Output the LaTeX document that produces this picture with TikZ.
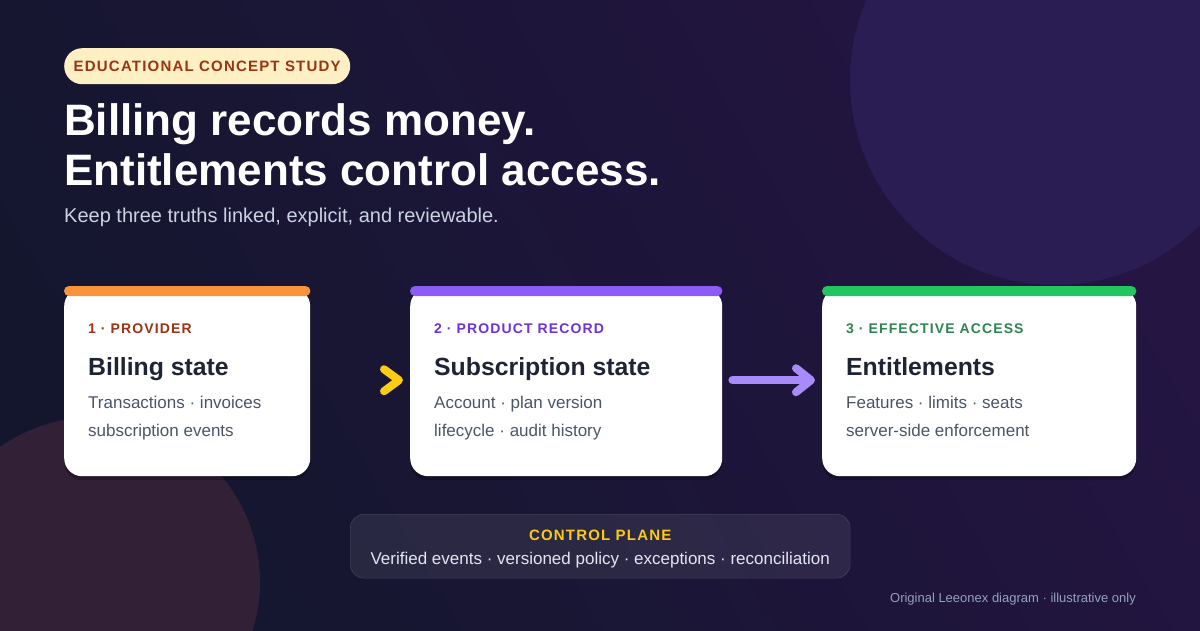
\documentclass[tikz,border=0pt]{standalone}
\usepackage{fontspec}
\setmainfont{Liberation Sans}
\newfontfamily\spaced[LetterSpace=8]{Liberation Sans}
\usepackage{tikz}
\usetikzlibrary{calc,positioning,arrows.meta,shadows}
\definecolor{bgtl}{RGB}{20,22,46}
\definecolor{bgbr}{RGB}{36,21,66}
\definecolor{blobviolet}{RGB}{42,29,84}
\definecolor{blobrose}{RGB}{50,32,54}
\definecolor{cream}{RGB}{254,240,196}
\definecolor{rust}{RGB}{154,52,18}
\definecolor{ink}{RGB}{30,36,52}
\definecolor{slate}{RGB}{75,85,105}
\definecolor{subgrey}{RGB}{203,210,225}
\definecolor{provbar}{RGB}{251,146,60}
\definecolor{prodbar}{RGB}{139,92,246}
\definecolor{entbar}{RGB}{34,197,94}
\definecolor{prodtxt}{RGB}{109,50,220}
\definecolor{enttxt}{RGB}{47,133,80}
\definecolor{gold}{RGB}{250,204,21}
\definecolor{lilac}{RGB}{167,139,250}
\definecolor{planetxt}{RGB}{226,230,240}
\definecolor{footgrey}{RGB}{148,160,190}
\tikzstyle{card}=[fill=white,rounded corners=18pt,anchor=north west,minimum height=188pt,inner sep=0pt,drop shadow={fill=black,opacity=0.25,shadow xshift=0pt,shadow yshift=-4pt}]
\tikzstyle{cardlabel}=[anchor=base west,inner sep=0pt,font=\spaced\bfseries\fontsize{14}{16}\selectfont]
\tikzstyle{cardtitle}=[anchor=base west,inner sep=0pt,text=ink,font=\bfseries\fontsize{24.8}{28}\selectfont]
\tikzstyle{cardtext}=[anchor=base west,inner sep=0pt,text=slate,font=\fontsize{17}{20}\selectfont]
\tikzstyle{flow}=[line width=8pt,line cap=round,lilac,-{Straight Barb[length=15pt,width=24pt,round]}]

\begin{document}
\begin{tikzpicture}[x=1pt,y=-1pt]
\useasboundingbox (0,0) rectangle (1200,630);
% backdrop
\shade[left color=bgtl,right color=bgbr,shading angle=120] (0,0) rectangle (1200,630);
\begin{scope}
\clip (0,0) rectangle (1200,630);
\fill[blobviolet] (1055,80) circle (205pt);
\fill[blobrose] (95,582) circle (165pt);
\end{scope}

% heading
\node[fill=cream,rounded corners=18pt,anchor=north west,minimum width=286pt,minimum height=36pt,
  text=rust,font=\spaced\bfseries\fontsize{15}{17}\selectfont] (tag) at (64,48) {EDUCATIONAL CONCEPT STUDY};
\node[anchor=base west,inner sep=0pt,text=white,font=\bfseries\fontsize{44}{52}\selectfont] (title1) at (64,135) {Billing records money.};
\node[anchor=base west,inner sep=0pt,text=white,font=\bfseries\fontsize{44}{52}\selectfont] (title2) at (64,185) {Entitlements control access.};
\node[anchor=base west,inner sep=0pt,text=subgrey,font=\fontsize{20}{24}\selectfont] (sub) at (64,222) {Keep three truths linked, explicit, and reviewable.};

% the three cards
\node[card,minimum width=246pt] (prov) at (64,288) {};
\fill[provbar,rounded corners=5pt] ($(prov.north west)+(0,-2)$) rectangle ($(prov.north east)+(0,8)$);
\node[cardlabel,text=rust] (provlbl) at ($(prov.north west)+(24,45)$) {1 · PROVIDER};
\node[cardtitle] (provtitle) at ($(prov.north west)+(24,87)$) {Billing state};
\node[cardtext] (provl1) at ($(prov.north west)+(24,120)$) {Transactions · invoices};
\node[cardtext] (provl2) at ($(prov.north west)+(24,148)$) {subscription events};

\node[card,minimum width=312pt] (prod) at (410,288) {};
\fill[prodbar,rounded corners=5pt] ($(prod.north west)+(0,-2)$) rectangle ($(prod.north east)+(0,8)$);
\node[cardlabel,text=prodtxt] (prodlbl) at ($(prod.north west)+(24,45)$) {2 · PRODUCT RECORD};
\node[cardtitle] (prodtitle) at ($(prod.north west)+(24,87)$) {Subscription state};
\node[cardtext] (prodl1) at ($(prod.north west)+(24,120)$) {Account · plan version};
\node[cardtext] (prodl2) at ($(prod.north west)+(24,148)$) {lifecycle · audit history};

\node[card,minimum width=314pt] (ent) at (822,288) {};
\fill[entbar,rounded corners=5pt] ($(ent.north west)+(0,-2)$) rectangle ($(ent.north east)+(0,8)$);
\node[cardlabel,text=enttxt] (entlbl) at ($(ent.north west)+(24,45)$) {3 · EFFECTIVE ACCESS};
\node[cardtitle] (enttitle) at ($(ent.north west)+(24,87)$) {Entitlements};
\node[cardtext] (entl1) at ($(ent.north west)+(24,120)$) {Features · limits · seats};
\node[cardtext] (entl2) at ($(ent.north west)+(24,148)$) {server-side enforcement};

% links
\coordinate (chev) at ($(prod.west)+(-11,-2)$);
\draw[gold,line width=8pt,line cap=round,line join=round] ($(chev)+(-15,-11)$) -- (chev) -- ($(chev)+(-15,11)$);
\draw[flow,shorten <=10pt,shorten >=7pt] ([yshift=2pt]prod.east) -- ([yshift=2pt]ent.west);

% control plane
\node[fill=white,fill opacity=0.08,draw=white,draw opacity=0.18,rounded corners=14pt,anchor=north west,
  minimum width=500pt,minimum height=64pt] (ctl) at (350,514) {};
\node[anchor=base,inner sep=0pt,text=gold,font=\spaced\bfseries\fontsize{15}{17}\selectfont] (ctlhead) at ($(ctl.north)+(0,26)$) {CONTROL PLANE};
\node[anchor=base,inner sep=0pt,text=planetxt,font=\fontsize{17}{20}\selectfont] (ctltext) at ($(ctl.north)+(0,50)$) {Verified events · versioned policy · exceptions · reconciliation};

\node[anchor=base east,inner sep=0pt,text=footgrey,font=\fontsize{13}{15}\selectfont] (foot) at (1136,602) {Original Leeonex diagram · illustrative only};
\end{tikzpicture}
\end{document}
